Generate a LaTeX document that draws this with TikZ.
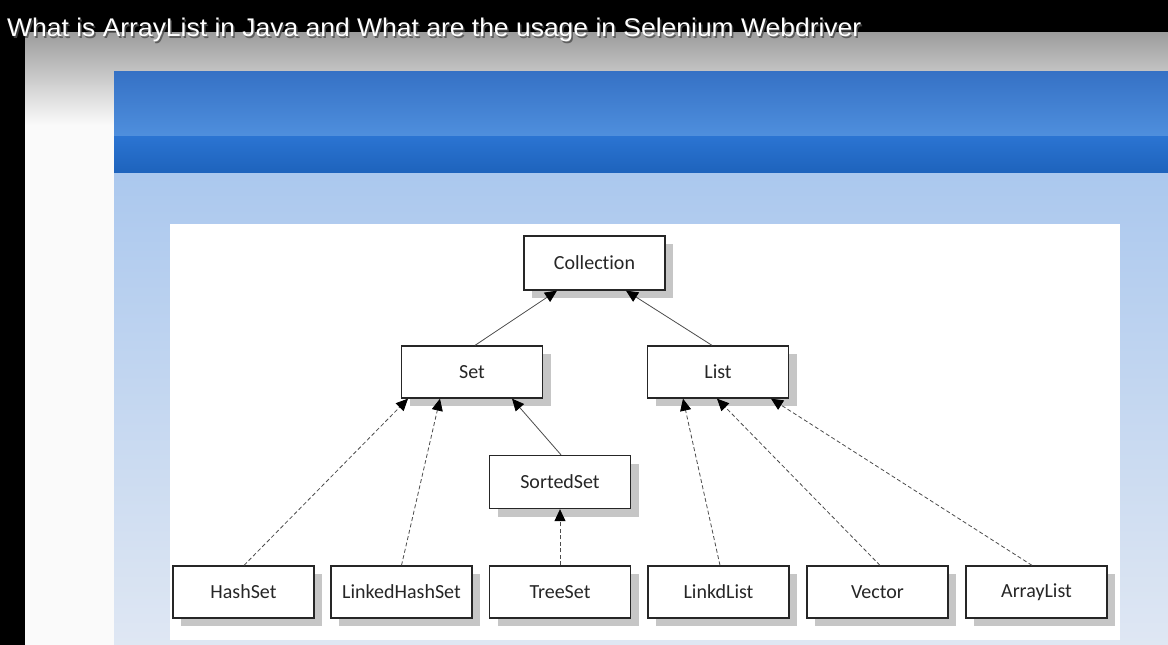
\documentclass[tikz,border=0pt]{standalone}
\usepackage{fontspec}
\setmainfont{Carlito}[Ligatures={NoCommon,NoContextual}]
\newfontfamily\titlefont{Liberation Sans}
\usetikzlibrary{arrows.meta,shadows}
\definecolor{bandA}{HTML}{3571C5}
\definecolor{bandB}{HTML}{4F8FDD}
\definecolor{bandC}{HTML}{2B74D2}
\definecolor{bandD}{HTML}{1E63BC}
\definecolor{lightA}{HTML}{ABC8EE}
\definecolor{lightB}{HTML}{DFE7F3}
\definecolor{grayA}{HTML}{9C9C9C}
\definecolor{shadowc}{HTML}{C6C6C6}
\definecolor{textc}{HTML}{262626}
\begin{document}
\begin{tikzpicture}[x=1pt,y=-1pt,
  box/.style={draw=black!85, line width=1.3pt, fill=white,
    minimum width=141pt, minimum height=52pt, inner sep=0pt,
    font=\fontsize{20}{20}\selectfont, text=textc,
    drop shadow={shadow xshift=8pt, shadow yshift=-8pt, fill=shadowc, opacity=1}},
  conn/.style={draw=black!70, line width=0.8pt,
    -{Triangle[length=12pt,width=11pt,color=black]}},
  dconn/.style={conn, dash pattern=on 4pt off 2.5pt}]
\useasboundingbox (0,0) rectangle (1168,645);
% background
\fill[black] (0,0) rectangle (1168,645);
\shade[top color=grayA, bottom color=white!98!black] (25,32) rectangle (1168,125);
\fill[white!98!black] (25,125) rectangle (1168,645);
\shade[top color=bandA, bottom color=bandB] (114,71) rectangle (1168,136);
\shade[top color=bandC, bottom color=bandD] (114,136) rectangle (1168,173);
\shade[top color=lightA, bottom color=lightB] (114,173) rectangle (1168,645);
\fill[white] (170,224) rectangle (1120,640);
% title
\node[anchor=base west, inner sep=0pt, text=black!70, opacity=0.8] (titleshadow) at (8.5,38.5)
  {\resizebox{854pt}{18.5pt}{\titlefont What is ArrayList in Java and What are the usage in Selenium Webdriver}};
\node[anchor=base west, inner sep=0pt, text=white] (title) at (7,37)
  {\resizebox{854pt}{18.5pt}{\titlefont What is ArrayList in Java and What are the usage in Selenium Webdriver}};
% nodes
\node[box, minimum height=54pt] (collection) at (594.5,263) {Collection};
\node[box] (set) at (472,372) {Set};
\node[box] (list) at (718,372) {List};
\node[box, minimum height=53pt] (sortedset) at (560,482) {SortedSet};
\node[box] (hashset) at (243.5,592) {HashSet};
\node[box] (linkedhashset) at (401.5,592) {LinkedHashSet};
\node[box] (treeset) at (560,592) {TreeSet};
\node[box] (linkdlist) at (718.5,592) {LinkdList};
\node[box] (vector) at (877.5,592) {Vector};
\node[box] (arraylist) at (1036.5,592) {\raisebox{2pt}{ArrayList}};
% connectors
\draw[conn] ([xshift=3pt]set.north) -- ([xshift=-37.5pt]collection.south);
\draw[conn] ([xshift=-6pt]list.north) -- ([xshift=31.5pt]collection.south);
\draw[dconn] ([xshift=0.5pt]hashset.north) -- ([xshift=-64pt]set.south);
\draw[dconn] (linkedhashset.north) -- ([xshift=-32pt]set.south);
\draw[conn] ([xshift=1pt]sortedset.north) -- ([xshift=40pt]set.south);
\draw[dconn] (treeset.north) -- (sortedset.south);
\draw[dconn] ([xshift=1.5pt]linkdlist.north) -- ([xshift=-35pt]list.south);
\draw[dconn] ([xshift=2.5pt]vector.north) -- ([xshift=-1pt]list.south);
\draw[dconn] ([xshift=-4.5pt]arraylist.north) -- ([xshift=53pt]list.south);
\end{tikzpicture}
\end{document}
